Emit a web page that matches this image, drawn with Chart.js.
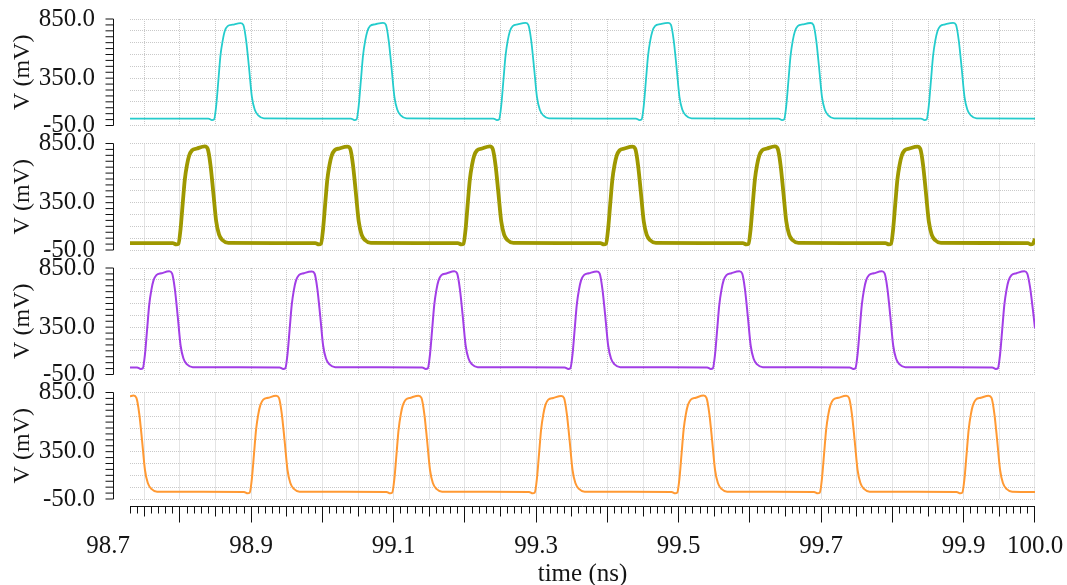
<!DOCTYPE html>
<html lang="en">
<head>
<meta charset="UTF-8">
<title>Transient waveforms</title>
<script src="https://cdn.jsdelivr.net/npm/chart.js"></script>
<style>
  html, body { margin: 0; padding: 0; background: #fff; }
  #wrap { width: 1067px; height: 585px; position: relative; }
</style>
</head>
<body>
<div id="wrap"><canvas id="waves"></canvas></div>
<script>
// time axis (ns)
const timeMin = 98.73;
const timeMax = 100.0;
const timeLabelValues = [98.73, 98.9, 99.1, 99.3, 99.5, 99.7, 99.9, 100.0];
const timeLabelTexts = ['98.7       ', '98.9', '99.1', '99.3', '99.5', '99.7', '99.9', '100.0'];

// voltage axes (mV), same range on every panel
const voltMin = -50;
const voltMax = 850;
const voltLabelValues = [-50, 350, 850];

// traces, [time ns, voltage mV], top panel first
const traceCyan = [
  [98.730, 8],
  [98.840, 8], [98.845, -4], [98.848, 2], [98.851, 118], [98.854, 330], [98.857, 545], [98.860, 665], [98.863, 748], [98.867, 790], [98.874, 802], [98.885, 815], [98.889, 800], [98.893, 668], [98.897, 440], [98.901, 195], [98.905, 85], [98.910, 35], [98.918, 10],
  [99.040, 8], [99.045, -4], [99.048, 2], [99.051, 120], [99.054, 330], [99.057, 540], [99.060, 665], [99.063, 745], [99.067, 792], [99.074, 805], [99.085, 818], [99.089, 802], [99.093, 670], [99.097, 440], [99.101, 195], [99.105, 85], [99.110, 35], [99.118, 10],
  [99.240, 8], [99.245, -4], [99.248, 2], [99.251, 120], [99.254, 330], [99.257, 540], [99.260, 665], [99.263, 745], [99.267, 790], [99.274, 804], [99.285, 817], [99.289, 801], [99.293, 670], [99.297, 440], [99.301, 195], [99.305, 85], [99.310, 35], [99.318, 10],
  [99.440, 8], [99.445, -4], [99.448, 2], [99.451, 120], [99.454, 330], [99.457, 540], [99.460, 665], [99.463, 745], [99.467, 791], [99.474, 806], [99.485, 818], [99.489, 802], [99.493, 670], [99.497, 440], [99.501, 195], [99.505, 85], [99.510, 35], [99.518, 10],
  [99.640, 8], [99.645, -4], [99.648, 2], [99.651, 120], [99.654, 330], [99.657, 540], [99.660, 665], [99.663, 745], [99.667, 790], [99.674, 804], [99.685, 816], [99.689, 800], [99.693, 670], [99.697, 440], [99.701, 195], [99.705, 85], [99.710, 35], [99.718, 10],
  [99.840, 8], [99.845, -4], [99.848, 2], [99.851, 120], [99.854, 330], [99.857, 540], [99.860, 665], [99.863, 745], [99.867, 790], [99.874, 805], [99.885, 818], [99.889, 802], [99.893, 670], [99.897, 440], [99.901, 195], [99.905, 85], [99.910, 35], [99.918, 10],
  [100.000, 8]
];

const traceOlive = [
  [98.730, 8],
  [98.790, 8], [98.795, -3], [98.798, 3], [98.801, 130], [98.804, 345], [98.807, 550], [98.810, 670], [98.813, 748], [98.817, 792], [98.824, 808], [98.835, 825], [98.839, 805], [98.843, 665], [98.847, 430], [98.851, 190], [98.855, 80], [98.860, 32], [98.868, 10],
  [98.990, 8], [98.995, -3], [98.998, 3], [99.001, 130], [99.004, 345], [99.007, 550], [99.010, 670], [99.013, 748], [99.017, 792], [99.024, 808], [99.035, 823], [99.039, 805], [99.043, 665], [99.047, 430], [99.051, 190], [99.055, 80], [99.060, 32], [99.068, 10],
  [99.190, 8], [99.195, -3], [99.198, 3], [99.201, 130], [99.204, 345], [99.207, 550], [99.210, 670], [99.213, 748], [99.217, 792], [99.224, 808], [99.235, 826], [99.239, 805], [99.243, 665], [99.247, 430], [99.251, 190], [99.255, 80], [99.260, 32], [99.268, 10],
  [99.390, 8], [99.395, -3], [99.398, 3], [99.401, 130], [99.404, 345], [99.407, 550], [99.410, 670], [99.413, 748], [99.417, 792], [99.424, 808], [99.435, 824], [99.439, 805], [99.443, 665], [99.447, 430], [99.451, 190], [99.455, 80], [99.460, 32], [99.468, 10],
  [99.590, 8], [99.595, -3], [99.598, 3], [99.601, 130], [99.604, 345], [99.607, 550], [99.610, 670], [99.613, 748], [99.617, 792], [99.624, 808], [99.635, 825], [99.639, 805], [99.643, 665], [99.647, 430], [99.651, 190], [99.655, 80], [99.660, 32], [99.668, 10],
  [99.790, 8], [99.795, -3], [99.798, 3], [99.801, 130], [99.804, 345], [99.807, 550], [99.810, 670], [99.813, 748], [99.817, 792], [99.824, 808], [99.835, 824], [99.839, 805], [99.843, 665], [99.847, 430], [99.851, 190], [99.855, 80], [99.860, 32], [99.868, 10],
  [99.990, 8], [99.994, -3], [99.997, 2], [100.000, 45]
];

const tracePurple = [
  [98.730, 9],
  [98.740, 9], [98.745, -3], [98.748, 3], [98.751, 120], [98.754, 330], [98.757, 540], [98.760, 665], [98.763, 745], [98.767, 790], [98.774, 805], [98.785, 822], [98.789, 805], [98.793, 670], [98.797, 440], [98.801, 195], [98.805, 85], [98.810, 35], [98.818, 12],
  [98.940, 9], [98.945, -3], [98.948, 3], [98.951, 120], [98.954, 330], [98.957, 540], [98.960, 665], [98.963, 745], [98.967, 790], [98.974, 806], [98.985, 820], [98.989, 804], [98.993, 670], [98.997, 440], [99.001, 195], [99.005, 85], [99.010, 35], [99.018, 12],
  [99.140, 9], [99.145, -3], [99.148, 3], [99.151, 120], [99.154, 330], [99.157, 540], [99.160, 665], [99.163, 745], [99.167, 790], [99.174, 804], [99.185, 823], [99.189, 806], [99.193, 670], [99.197, 440], [99.201, 195], [99.205, 85], [99.210, 35], [99.218, 12],
  [99.340, 9], [99.345, -3], [99.348, 3], [99.351, 120], [99.354, 330], [99.357, 540], [99.360, 665], [99.363, 745], [99.367, 790], [99.374, 805], [99.385, 821], [99.389, 805], [99.393, 670], [99.397, 440], [99.401, 195], [99.405, 85], [99.410, 35], [99.418, 12],
  [99.540, 9], [99.545, -3], [99.548, 3], [99.551, 120], [99.554, 330], [99.557, 540], [99.560, 665], [99.563, 745], [99.567, 790], [99.574, 806], [99.585, 822], [99.589, 805], [99.593, 670], [99.597, 440], [99.601, 195], [99.605, 85], [99.610, 35], [99.618, 12],
  [99.740, 9], [99.745, -3], [99.748, 3], [99.751, 120], [99.754, 330], [99.757, 540], [99.760, 665], [99.763, 745], [99.767, 790], [99.774, 805], [99.785, 822], [99.789, 805], [99.793, 670], [99.797, 440], [99.801, 195], [99.805, 85], [99.810, 35], [99.818, 12],
  [99.940, 9], [99.945, -3], [99.948, 3], [99.951, 120], [99.954, 330], [99.957, 540], [99.960, 665], [99.963, 745], [99.967, 790], [99.974, 806], [99.985, 822], [99.989, 805], [99.993, 690], [99.997, 500], [100.000, 340]
];

const traceOrange = [
  [98.730, 818], [98.735, 824], [98.739, 805], [98.743, 670], [98.747, 440], [98.751, 195], [98.755, 85], [98.760, 35], [98.768, 12],
  [98.890, 10], [98.895, -2], [98.898, 4], [98.901, 120], [98.904, 330], [98.907, 540], [98.910, 665], [98.913, 745], [98.917, 790], [98.924, 805], [98.935, 822], [98.939, 805], [98.943, 670], [98.947, 440], [98.951, 195], [98.955, 85], [98.960, 35], [98.968, 12],
  [99.090, 10], [99.095, -2], [99.098, 4], [99.101, 120], [99.104, 330], [99.107, 540], [99.110, 665], [99.113, 745], [99.117, 790], [99.124, 806], [99.135, 823], [99.139, 805], [99.143, 670], [99.147, 440], [99.151, 195], [99.155, 85], [99.160, 35], [99.168, 12],
  [99.290, 10], [99.295, -2], [99.298, 4], [99.301, 120], [99.304, 330], [99.307, 540], [99.310, 665], [99.313, 745], [99.317, 790], [99.324, 804], [99.335, 821], [99.339, 805], [99.343, 670], [99.347, 440], [99.351, 195], [99.355, 85], [99.360, 35], [99.368, 12],
  [99.490, 10], [99.495, -2], [99.498, 4], [99.501, 120], [99.504, 330], [99.507, 540], [99.510, 665], [99.513, 745], [99.517, 790], [99.524, 806], [99.535, 824], [99.539, 805], [99.543, 670], [99.547, 440], [99.551, 195], [99.555, 85], [99.560, 35], [99.568, 12],
  [99.690, 10], [99.695, -2], [99.698, 4], [99.701, 120], [99.704, 330], [99.707, 540], [99.710, 665], [99.713, 745], [99.717, 790], [99.724, 805], [99.735, 822], [99.739, 805], [99.743, 670], [99.747, 440], [99.751, 195], [99.755, 85], [99.760, 35], [99.768, 12],
  [99.890, 10], [99.895, -2], [99.898, 4], [99.901, 120], [99.904, 330], [99.907, 540], [99.910, 665], [99.913, 745], [99.917, 790], [99.924, 805], [99.935, 823], [99.939, 805], [99.943, 670], [99.947, 440], [99.951, 195], [99.955, 85], [99.960, 35], [99.968, 12],
  [100.000, 10]
];

// layout of the strip (px)
const panelHeight = 106.5;
const panelGap = 18;
const bottomGap = 8;
const axisOffset = 16;      // y axis line sits left of the plot area
const textColor = '#151515';
const gridColor = '#c9c9c9';
const clear = 'rgba(0,0,0,0)';

const panels = [
  { id: 'yA', data: traceCyan,   color: '#24cccc', width: 1.8 },
  { id: 'yB', data: traceOlive,  color: '#9e9800', width: 3.8 },
  { id: 'yC', data: tracePurple, color: '#a23ee6', width: 2 },
  { id: 'yD', data: traceOrange, color: '#ff9933', width: 2 }
];

const sameValue = (a, b) => Math.abs(a - b) < 1e-6;

// label offsets come from invisible tick marks; ticks.padding would also
// widen the layout margins
const scales = {
  x: {
    type: 'linear',
    position: 'bottom',
    min: timeMin,
    max: timeMax,
    afterBuildTicks: s => {
      const t = [];
      for (let k = Math.round(timeMin * 100); k <= Math.round(timeMax * 100); k++) t.push({ value: k / 100 });
      s.ticks = t;
    },
    afterFit: s => { s.height = 78; },
    grid: { display: true, drawOnChartArea: false, drawTicks: true, tickLength: 24, tickColor: clear },
    border: { display: false },
    ticks: {
      autoSkip: false, minRotation: 0, maxRotation: 0, padding: 0,
      color: textColor, font: { size: 25 },
      callback: v => {
        const i = timeLabelValues.findIndex(l => sameValue(l, v));
        return i >= 0 ? timeLabelTexts[i] : '';
      }
    },
    title: {
      display: true, text: 'time (ns)', color: textColor,
      font: { size: 25, lineHeight: 0.88 }, padding: 0
    }
  }
};

// stacked y axes, top panel gets the highest weight so it is placed first
let w = 20;
panels.forEach((p, i) => {
  scales[p.id] = {
    type: 'linear',
    position: 'left',
    stack: 'strip',
    stackWeight: panelHeight,
    weight: w--,
    min: voltMin,
    max: voltMax,
    afterBuildTicks: s => {
      const t = [];
      for (let v = voltMin; v <= voltMax; v += 50) t.push({ value: v });
      s.ticks = t;
    },
    afterFit: s => { s.width = 130; },
    grid: {
      drawTicks: true,
      tickLength: 35,
      tickColor: clear,
      lineWidth: 1,
      color: c => ((c.tick.value - voltMin) % 100 === 0 ? gridColor : clear)
    },
    border: { display: false, dash: [1, 1] },
    ticks: {
      autoSkip: false, padding: 0, color: textColor, font: { size: 25 },
      callback: v => (voltLabelValues.includes(v) ? v.toFixed(1) : '')
    },
    title: {
      display: true, text: 'V (mV)', color: textColor,
      font: { size: 24 }, padding: { top: 8, bottom: 0 }
    }
  };
  scales['gap' + i] = {
    type: 'linear', position: 'left', stack: 'strip',
    stackWeight: i < panels.length - 1 ? panelGap : bottomGap,
    weight: w--, display: false
  };
});

// axis lines, tick marks and the per-panel vertical grid
const axisMarks = {
  id: 'axisMarks',
  beforeDatasetsDraw(chart) {
    const { ctx, chartArea, scales: sc } = chart;
    const x = sc.x;
    ctx.save();
    ctx.strokeStyle = gridColor;
    ctx.lineWidth = 1;
    ctx.setLineDash([1, 1]);
    panels.forEach(p => {
      const y = sc[p.id];
      x.ticks.forEach(t => {
        if (Math.round(t.value * 100) % 5 !== 0) return;
        const px = Math.min(Math.floor(x.getPixelForValue(t.value)), chartArea.right - 1) + 0.5;
        ctx.beginPath();
        ctx.moveTo(px, y.top);
        ctx.lineTo(px, y.bottom);
        ctx.stroke();
      });
    });
    ctx.restore();
  },
  afterDraw(chart) {
    const { ctx, chartArea, scales: sc } = chart;
    const x = sc.x;
    ctx.save();
    ctx.strokeStyle = '#111';
    ctx.lineWidth = 1;
    // y axes
    panels.forEach(p => {
      const y = sc[p.id];
      const ax = chartArea.left - axisOffset - 0.5;
      ctx.beginPath();
      ctx.moveTo(ax, y.getPixelForValue(voltMax));
      ctx.lineTo(ax, y.getPixelForValue(voltMin));
      y.ticks.forEach(t => {
        const py = y.getPixelForValue(t.value);
        ctx.moveTo(ax - 8, py);
        ctx.lineTo(ax, py);
      });
      ctx.stroke();
    });
    // time axis
    const ay = chartArea.bottom - 0.5;
    ctx.beginPath();
    ctx.moveTo(chartArea.left, ay);
    ctx.lineTo(chartArea.right, ay);
    x.ticks.forEach(t => {
      const k = Math.round(t.value * 100);
      const len = k % 10 === 0 ? 16 : (k % 5 === 0 ? 10 : 7);
      const px = Math.min(Math.floor(x.getPixelForValue(t.value)), chartArea.right - 1) + 0.5;
      ctx.moveTo(px, ay);
      ctx.lineTo(px, ay + len);
    });
    ctx.stroke();
    ctx.restore();
  }
};

Chart.defaults.font.family = "'Liberation Serif', serif";

new Chart(document.getElementById('waves'), {
  type: 'line',
  data: {
    datasets: panels.map(p => ({
      data: p.data.map(([t, v]) => ({ x: t, y: v })),
      yAxisID: p.id,
      xAxisID: 'x',
      borderColor: p.color,
      borderWidth: p.width,
      pointRadius: 0,
      cubicInterpolationMode: 'monotone',
      fill: false
    }))
  },
  options: {
    responsive: true,
    maintainAspectRatio: false,
    animation: false,
    layout: { autoPadding: false, padding: { top: 19, right: 32, bottom: 0, left: 0 } },
    plugins: { legend: { display: false }, tooltip: { enabled: false } },
    scales: scales
  },
  plugins: [axisMarks]
});
</script>
</body>
</html>
